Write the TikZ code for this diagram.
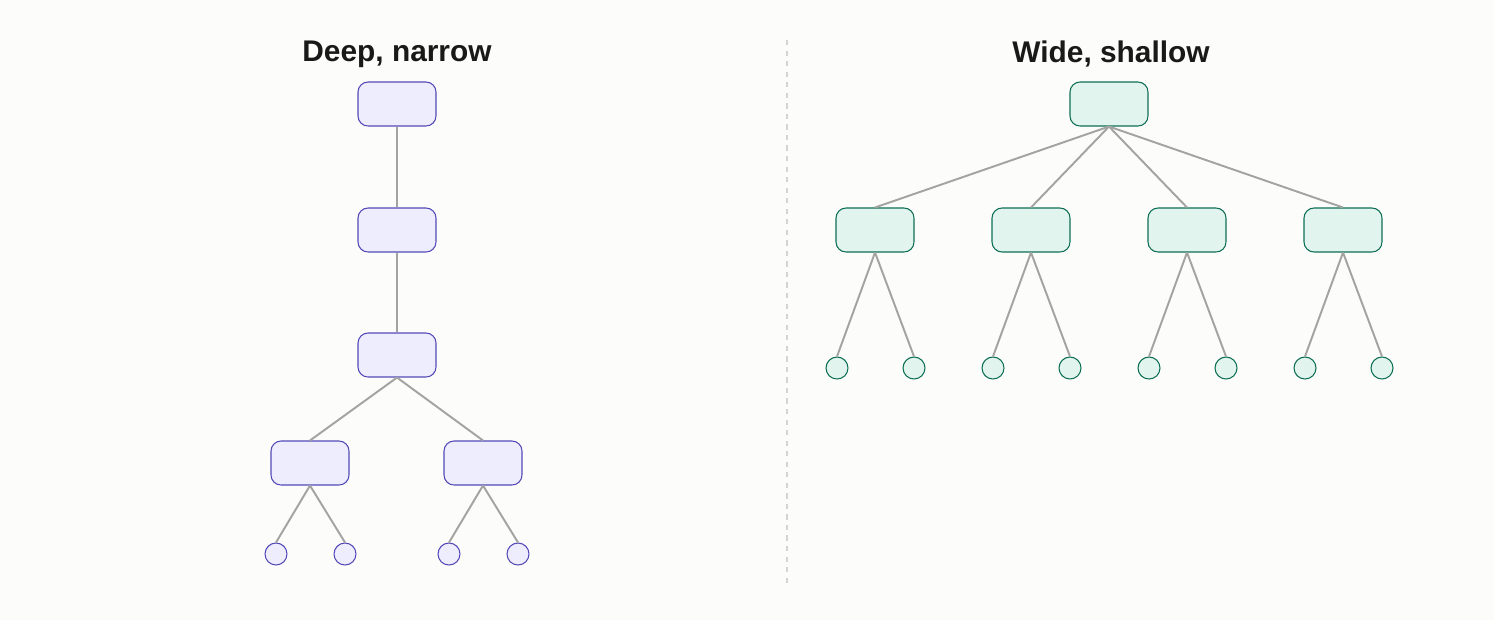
\documentclass[tikz,border=0pt]{standalone}
\usepackage{fontspec}
\setmainfont{Liberation Sans}
\usetikzlibrary{positioning}
\definecolor{bgcol}{HTML}{FCFCFA}
\definecolor{purpfill}{HTML}{EEEDFE}
\definecolor{purpline}{HTML}{534AB7}
\definecolor{greenfill}{HTML}{E1F5EE}
\definecolor{greenline}{HTML}{0F6E56}
\definecolor{edgecol}{HTML}{A3A3A1}
\definecolor{dividcol}{HTML}{D4D4D2}
\begin{document}
\begin{tikzpicture}[x=0.02cm,y=-0.02cm,
	box/.style={draw,rounded corners=0.2cm,minimum width=1.56cm,minimum height=0.88cm,inner sep=0pt,line width=0.6pt},
	leaf/.style={draw,circle,minimum size=0.44cm,inner sep=0pt,line width=0.6pt},
	purp/.style={fill=purpfill,draw=purpline},
	grn/.style={fill=greenfill,draw=greenline},
	edge/.style={draw=edgecol,line width=1.1pt},
	title/.style={font=\bfseries\fontsize{17}{19}\selectfont,text=black!90}]
			\fill [bgcol] (0,0) rectangle (1494,620);
			\useasboundingbox (0,0) rectangle (1494,620);
			% divider
			\draw [dividcol,dashed,line width=0.6pt] (787,40) -- (787,585);
			% deep, narrow
			\node [title] (tdeep) at (397,54) {Deep, narrow};
			\node [box,purp] (d1) at (397,104) {};
			\node [box,purp] (d2) at (397,230) {};
			\node [box,purp] (d3) at (397,355) {};
			\node [box,purp] (d4a) at (310,463) {};
			\node [box,purp] (d4b) at (483,463) {};
			\node [leaf,purp] (d5a) at (276,554) {};
			\node [leaf,purp] (d5b) at (345,554) {};
			\node [leaf,purp] (d5c) at (449,554) {};
			\node [leaf,purp] (d5d) at (518,554) {};
			\draw [edge] (d1.south) -- (d2.north);
			\draw [edge] (d2.south) -- (d3.north);
			\draw [edge] (d3.south) -- (d4a.north);
			\draw [edge] (d3.south) -- (d4b.north);
			\draw [edge] (d4a.south) -- (d5a.north);
			\draw [edge] (d4a.south) -- (d5b.north);
			\draw [edge] (d4b.south) -- (d5c.north);
			\draw [edge] (d4b.south) -- (d5d.north);
			% wide, shallow
			\node [title] (twide) at (1111,54) {Wide, shallow};
			\node [box,grn] (w0) at (1109,104) {};
			\foreach \i/\x in {1/875,2/1031,3/1187,4/1343} {
				\node [box,grn] (w\i) at (\x,230) {};
				\node [leaf,grn] (w\i a) at (\x-38,368) {};
				\node [leaf,grn] (w\i b) at (\x+39,368) {};
				\draw [edge] (w0.south) -- (w\i.north);
				\draw [edge] (w\i.south) -- (w\i a.north);
				\draw [edge] (w\i.south) -- (w\i b.north);
			}
\end{tikzpicture}
\end{document}
